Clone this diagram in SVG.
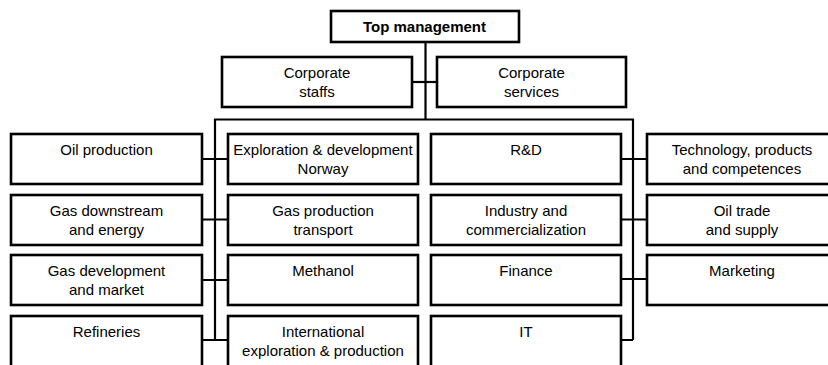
<svg xmlns="http://www.w3.org/2000/svg" width="828" height="365" viewBox="0 0 828 365">
  <style>
    .box { fill: #ffffff; stroke: #000000; stroke-width: 2.6; }
    .lbl { font-family: "Liberation Sans", Arial, sans-serif; font-size: 15px; fill: #000000; text-anchor: middle; }
    .head { font-weight: bold; }
    .wire { fill: none; stroke: #000000; stroke-width: 2.2; }
  </style>
  <rect width="828" height="365" fill="#ffffff"/>

  <!-- connectors -->
  <g id="connectors">
    <path class="wire" d="M425.5,42 V119.5"/>
    <path class="wire" d="M412,82 H437"/>
    <path class="wire" d="M215,340 V119.5 H633 V340"/>
    <path class="wire" d="M202,159 H228 M202,219.5 H228 M202,280 H228 M202,340 H228"/>
    <path class="wire" d="M621,159 H647 M621,219.5 H647 M621,279 H647 M621,340 H633"/>
  </g>

  <g id="top-management">
    <rect class="box" x="331" y="11" width="188" height="31"/>
    <text class="lbl head" x="424.5" y="31.5">Top management</text>
  </g>
  <g id="corporate-staffs">
    <rect class="box" x="222" y="57" width="190" height="50"/>
    <text class="lbl" x="317" y="78">Corporate</text>
    <text class="lbl" x="317" y="97">staffs</text>
  </g>
  <g id="corporate-services">
    <rect class="box" x="437" y="57" width="189" height="50"/>
    <text class="lbl" x="531.5" y="78">Corporate</text>
    <text class="lbl" x="531.5" y="97">services</text>
  </g>

  <!-- column 1 -->
  <g id="oil-production">
    <rect class="box" x="11" y="134" width="191" height="50"/>
    <text class="lbl" x="106.5" y="155">Oil production</text>
  </g>
  <g id="gas-downstream">
    <rect class="box" x="11" y="195" width="191" height="50"/>
    <text class="lbl" x="106.5" y="216">Gas downstream</text>
    <text class="lbl" x="106.5" y="235">and energy</text>
  </g>
  <g id="gas-development">
    <rect class="box" x="11" y="255" width="191" height="50"/>
    <text class="lbl" x="106.5" y="276">Gas development</text>
    <text class="lbl" x="106.5" y="295">and market</text>
  </g>
  <g id="refineries">
    <rect class="box" x="11" y="316" width="191" height="60"/>
    <text class="lbl" x="106.5" y="337">Refineries</text>
  </g>

  <!-- column 2 -->
  <g id="exploration-norway">
    <rect class="box" x="228" y="134" width="190" height="50"/>
    <text class="lbl" x="323" y="155">Exploration &amp; development</text>
    <text class="lbl" x="323" y="174">Norway</text>
  </g>
  <g id="gas-production">
    <rect class="box" x="228" y="195" width="190" height="50"/>
    <text class="lbl" x="323" y="216">Gas production</text>
    <text class="lbl" x="323" y="235">transport</text>
  </g>
  <g id="methanol">
    <rect class="box" x="228" y="255" width="190" height="50"/>
    <text class="lbl" x="323" y="276">Methanol</text>
  </g>
  <g id="international">
    <rect class="box" x="228" y="316" width="190" height="60"/>
    <text class="lbl" x="323" y="337">International</text>
    <text class="lbl" x="323" y="356">exploration &amp; production</text>
  </g>

  <!-- column 3 -->
  <g id="rnd">
    <rect class="box" x="431" y="134" width="190" height="50"/>
    <text class="lbl" x="526" y="155">R&amp;D</text>
  </g>
  <g id="industry">
    <rect class="box" x="431" y="195" width="190" height="50"/>
    <text class="lbl" x="526" y="216">Industry and</text>
    <text class="lbl" x="526" y="235">commercialization</text>
  </g>
  <g id="finance">
    <rect class="box" x="431" y="255" width="190" height="50"/>
    <text class="lbl" x="526" y="276">Finance</text>
  </g>
  <g id="it">
    <rect class="box" x="431" y="316" width="190" height="60"/>
    <text class="lbl" x="526" y="337">IT</text>
  </g>

  <!-- column 4 -->
  <g id="technology">
    <rect class="box" x="647" y="134" width="190" height="50"/>
    <text class="lbl" x="742" y="155">Technology, products</text>
    <text class="lbl" x="742" y="174">and competences</text>
  </g>
  <g id="oil-trade">
    <rect class="box" x="647" y="195" width="190" height="50"/>
    <text class="lbl" x="742" y="216">Oil trade</text>
    <text class="lbl" x="742" y="235">and supply</text>
  </g>
  <g id="marketing">
    <rect class="box" x="647" y="255" width="190" height="50"/>
    <text class="lbl" x="742" y="276">Marketing</text>
  </g>
</svg>
